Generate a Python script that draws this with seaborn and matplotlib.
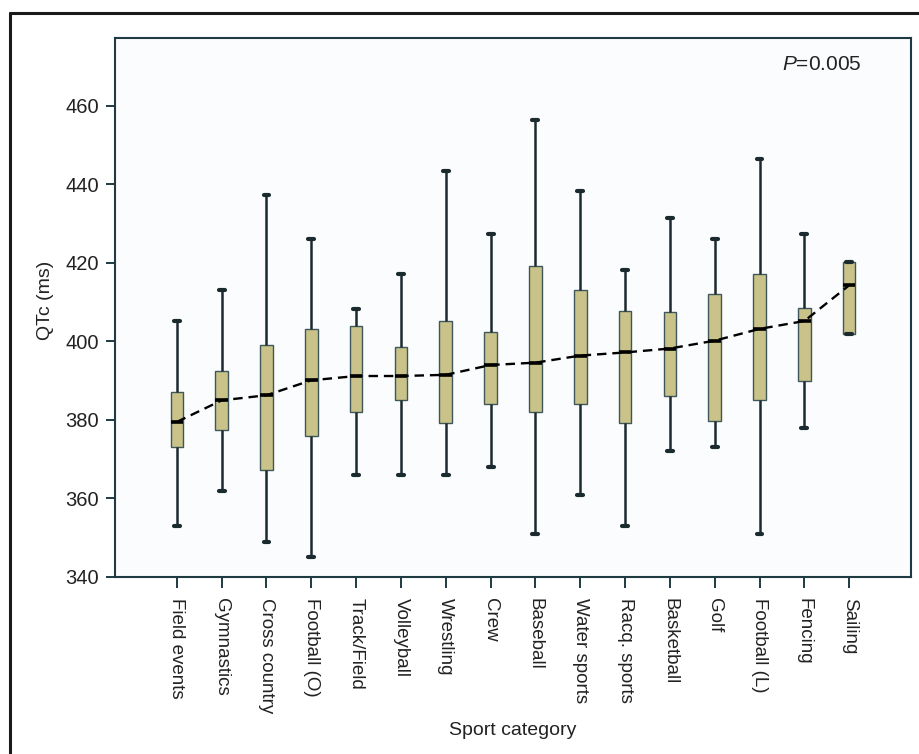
import numpy as np
import pandas as pd
import seaborn as sns
import matplotlib.pyplot as plt
from matplotlib.lines import Line2D

# five-number summaries (ms)
sports = ['Field events', 'Gymnastics', 'Cross country', 'Football (O)', 'Track/Field',
          'Volleyball', 'Wrestling', 'Crew', 'Baseball', 'Water sports', 'Racq. sports',
          'Basketball', 'Golf', 'Football (L)', 'Fencing', 'Sailing']
whisker_low = [353, 362, 349, 345, 366, 366, 366, 368, 351, 361, 353, 372, 373, 351, 378, 402]
q1 = [373, 377.5, 367.3, 376, 382, 385, 379.2, 384, 382, 384, 379.2, 386, 379.7, 385, 390, 402]
medians = [379.5, 385, 386.3, 390.1, 391.2, 391.2, 391.5, 394, 394.6, 396.4, 397.2, 398.2,
           400.2, 403.2, 405.2, 414.3]
q3 = [387, 392.5, 399.1, 403.2, 404, 398.7, 405.2, 402.5, 419.2, 413.1, 407.7, 407.6, 412.1,
      417.2, 408.5, 420.2]
whisker_high = [405.3, 413.2, 437.4, 426.2, 408.2, 417.3, 443.5, 427.4, 456.4, 438.4, 418.2,
                431.4, 426.2, 446.4, 427.4, 420.2]
yticks = [340, 360, 380, 400, 420, 440, 460]

rows = []
for i, s in enumerate(sports):
    for v in (whisker_low[i], q1[i], medians[i], q3[i], whisker_high[i]):
        rows.append({'sport': s, 'qtc': v})
df = pd.DataFrame(rows)

sns.set_style('ticks')
plt.rcParams['font.family'] = ['Liberation Sans', 'DejaVu Sans']
plt.rcParams['mathtext.fontset'] = 'custom'
plt.rcParams['mathtext.rm'] = 'Liberation Sans'
plt.rcParams['mathtext.it'] = 'Liberation Sans:italic'

spine_col = '#1f3a42'
text_col = '#222222'

fig = plt.figure(figsize=(9.2, 7.54), dpi=100)
ax = fig.add_axes([115 / 920, 1 - 577 / 754, 796 / 920, 539 / 754])
ax.set_facecolor('#fbfcfe')

sns.boxplot(data=df, x='sport', y='qtc', order=sports, whis=(0, 100), width=0.28,
            color='#c9c38a', saturation=1, linecolor='#3f575b', linewidth=1.0,
            showfliers=False, capwidths=0.13,
            whiskerprops={'color': '#1b2a2e', 'linewidth': 1.8},
            capprops={'color': '#1b2a2e', 'linewidth': 3.0},
            medianprops={'color': 'black', 'linewidth': 2.6},
            ax=ax)

# trend through the medians
sns.lineplot(x=np.arange(len(sports)), y=medians, color='black', linewidth=1.7,
             linestyle=(0, (4, 2.5)), ax=ax, zorder=5)

ax.set_xlim(-1.38, len(sports) - 1 + 1.38)
ax.set_ylim(340, 477.3)
ax.set_yticks(yticks)
ax.set_xticks(np.arange(len(sports)))
ax.set_xticklabels(sports, rotation=-90, fontsize=13.5, color=text_col, va='top', ha='center')
ax.tick_params(axis='y', labelsize=14.5, labelcolor=text_col, length=6.5, width=1.4,
               color=spine_col, pad=5)
ax.tick_params(axis='x', length=8, width=1.4, color=spine_col, pad=7)

for sp in ax.spines.values():
    sp.set_visible(True)
    sp.set_color(spine_col)
    sp.set_linewidth(1.5)

ax.set_xlabel('Sport category', fontsize=14, color=text_col)
ax.xaxis.set_label_coords(0.5, -0.269)
ax.set_ylabel('QTc (ms)', fontsize=14, color=text_col)
ax.yaxis.set_label_coords(-0.077, 0.513)

ax.text(0.938, 0.95, r'$\it{P}$=0.005', transform=ax.transAxes, ha='right', va='center',
        fontsize=15, color=text_col)

# outer frame (cropped on right and bottom)
fig.add_artist(Line2D([10 / 920, 10 / 920], [1 - 13 / 754, -0.1], transform=fig.transFigure,
                      color='#1a1a1a', linewidth=2.2))
fig.add_artist(Line2D([10 / 920, 1.1], [1 - 13 / 754, 1 - 13 / 754], transform=fig.transFigure,
                      color='#1a1a1a', linewidth=2.2))

fig.savefig('out.png', dpi=100)
